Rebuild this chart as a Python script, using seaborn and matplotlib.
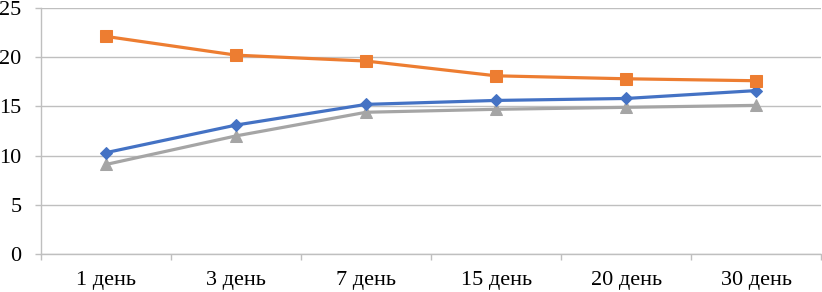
import pandas as pd
import numpy as np
import matplotlib
matplotlib.use("Agg")
import matplotlib.pyplot as plt
import seaborn as sns

days = ["1 день", "3 день", "7 день", "15 день", "20 день", "30 день"]
blue_vals = [10.3, 13.1, 15.2, 15.6, 15.8, 16.6]
orange_vals = [22.1, 20.2, 19.6, 18.1, 17.8, 17.6]
gray_vals = [9.1, 12.0, 14.4, 14.7, 14.9, 15.1]

df = pd.concat([
    pd.DataFrame({"day": days, "value": blue_vals, "series": "s1"}),
    pd.DataFrame({"day": days, "value": orange_vals, "series": "s2"}),
    pd.DataFrame({"day": days, "value": gray_vals, "series": "s3"}),
], ignore_index=True)

sns.set_style("white")
plt.rcParams["font.family"] = ["Liberation Serif", "DejaVu Serif"]

fig = plt.figure(figsize=(8.22, 2.92), dpi=100)
ax = fig.add_axes([0.05, 0.13, 0.949, 0.843])

palette = {"s1": "#4472C4", "s2": "#ED7D31", "s3": "#A5A5A5"}
markers = {"s1": "D", "s2": "s", "s3": "^"}
sizes = {"s1": 6, "s2": 8, "s3": 8}
for s in ["s3", "s1", "s2"]:
    sub = df[df["series"] == s]
    sns.lineplot(data=sub, x="day", y="value", color=palette[s], marker=markers[s],
                 markersize=sizes[s], markeredgecolor=palette[s], linewidth=2.3,
                 ax=ax, legend=False, sort=False)

grid_col = "#bfbfbf"
ax.set_ylim(0, 25)
ax.set_yticks(range(0, 26, 5))
ax.set_xlim(-0.5, len(days) - 0.5)
ax.set_xticks(range(len(days)))
ax.set_xticklabels(days)
ax.set_xticks(np.arange(-0.5, len(days), 1), minor=True)
ax.grid(axis="y", color=grid_col, linewidth=1)
ax.set_axisbelow(True)
ax.set_xlabel("")
ax.set_ylabel("")

for side in ["right", "top"]:
    ax.spines[side].set_visible(False)
for side in ["bottom", "left"]:
    ax.spines[side].set_color(grid_col)
    ax.spines[side].set_linewidth(1)

ax.tick_params(axis="x", which="major", length=0, pad=12, labelsize=16, labelcolor="#000000")
ax.tick_params(axis="x", which="minor", length=4, color=grid_col, width=1, bottom=True)
ax.tick_params(axis="y", length=4.5, color=grid_col, width=1, left=True, pad=9.5,
               labelsize=16, labelcolor="#000000")

fig.savefig("out.png", dpi=100)
